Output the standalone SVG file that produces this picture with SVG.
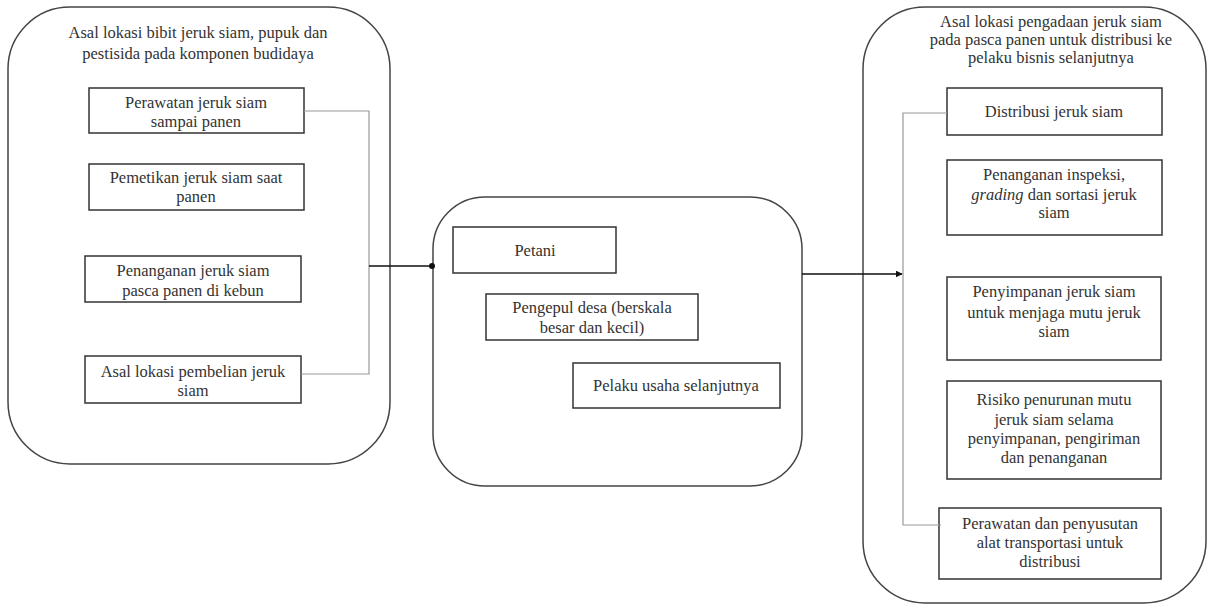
<svg xmlns="http://www.w3.org/2000/svg" width="1212" height="607" viewBox="0 0 1212 607">
<style>
.c{fill:#fff;stroke:#444;stroke-width:1.5}
.b{fill:#fff;stroke:#333;stroke-width:1.5}
text{font-family:"Liberation Serif","Times New Roman",serif;font-size:16.5px;fill:#333;text-anchor:middle}
.br{fill:none;stroke:#999;stroke-width:1.2}
.ln{fill:none;stroke:#111;stroke-width:1.6}
</style>
<defs>
<marker id="arr" viewBox="0 0 10 10" refX="9" refY="5" markerWidth="7" markerHeight="7" orient="auto" markerUnits="userSpaceOnUse"><path d="M0,0L10,5L0,10z" fill="#111"/></marker>
<marker id="dot" viewBox="0 0 10 10" refX="5" refY="5" markerWidth="6" markerHeight="6" markerUnits="userSpaceOnUse"><circle cx="5" cy="5" r="5" fill="#111"/></marker>
</defs>
<rect width="1212" height="607" fill="#fff"/>
<g id="left">
<rect class="c" x="8" y="7" width="382" height="457" rx="62" ry="62"/>
<text x="198" y="38">Asal lokasi bibit jeruk siam, pupuk dan</text>
<text x="198" y="59">pestisida pada komponen budidaya</text>
</g>
<g id="l1"><rect class="b" x="89" y="88" width="215" height="45"/><text x="196" y="108">Perawatan jeruk siam</text><text x="196" y="127">sampai panen</text></g>
<g id="l2"><rect class="b" x="89" y="164" width="215" height="46"/><text x="196" y="183">Pemetikan jeruk siam saat</text><text x="196" y="202">panen</text></g>
<g id="l3"><rect class="b" x="85" y="256" width="216" height="46"/><text x="193" y="276">Penanganan jeruk siam</text><text x="193" y="296">pasca panen di kebun</text></g>
<g id="l4"><rect class="b" x="85" y="356" width="216" height="47"/><text x="193" y="377">Asal lokasi pembelian jeruk</text><text x="193" y="396">siam</text></g>
<g id="mid">
<rect class="c" x="433" y="197" width="369" height="289" rx="52" ry="52"/>
</g>
<g id="m1"><rect class="b" x="453" y="227" width="163" height="46"/><text x="535" y="256">Petani</text></g>
<g id="m2"><rect class="b" x="486" y="294" width="212" height="46"/><text x="592" y="313">Pengepul desa (berskala</text><text x="592" y="333">besar dan kecil)</text></g>
<g id="m3"><rect class="b" x="573" y="363" width="207" height="45"/><text x="676" y="391">Pelaku usaha selanjutnya</text></g>
<g id="right">
<rect class="c" x="863" y="7" width="343" height="596" rx="62" ry="62"/>
<text x="1051" y="27">Asal lokasi pengadaan jeruk siam</text>
<text x="1051" y="45">pada pasca panen untuk distribusi ke</text>
<text x="1051" y="63">pelaku bisnis selanjutnya</text>
</g>
<g id="r1"><rect class="b" x="947" y="88" width="215" height="47"/><text x="1054" y="117">Distribusi jeruk siam</text></g>
<g id="r2"><rect class="b" x="947" y="160" width="215" height="75"/><text x="1054" y="180">Penanganan inspeksi,</text><text x="1054" y="200"><tspan font-style="italic">grading</tspan> dan sortasi jeruk</text><text x="1054" y="218">siam</text></g>
<g id="r3"><rect class="b" x="947" y="277" width="214" height="83"/><text x="1054" y="297">Penyimpanan jeruk siam</text><text x="1054" y="318">untuk menjaga mutu jeruk</text><text x="1054" y="337">siam</text></g>
<g id="r4"><rect class="b" x="947" y="381" width="214" height="98"/><text x="1054" y="405">Risiko penurunan mutu</text><text x="1054" y="425">jeruk siam selama</text><text x="1054" y="444">penyimpanan, pengiriman</text><text x="1054" y="463">dan penanganan</text></g>
<g id="r5"><rect class="b" x="939" y="508" width="222" height="71"/><text x="1050" y="529">Perawatan dan penyusutan</text><text x="1050" y="548">alat transportasi untuk</text><text x="1050" y="567">distribusi</text></g>
<g id="connectors">
<path class="br" d="M304,111H369V374H301"/>
<path class="ln" d="M369,266H432" marker-end="url(#dot)"/>
<path class="br" d="M947,113H903V525H941"/>
<path class="ln" d="M802,274H902" marker-end="url(#arr)"/>
</g>
</svg>
